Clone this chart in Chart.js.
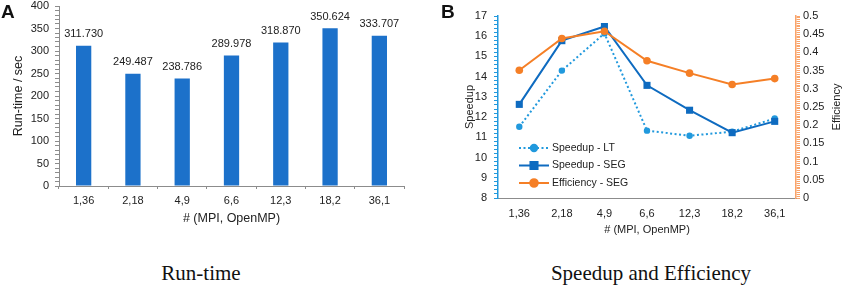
<!DOCTYPE html>
<html>
<head>
<meta charset="utf-8">
<script src="https://cdn.jsdelivr.net/npm/chart.js@4.4.1/dist/chart.umd.min.js"></script>
<style>
    body { margin: 0; background: #fff; width: 844px; height: 287px; overflow: hidden; position: relative; font-family: 'Liberation Sans', Arial, sans-serif; }
    canvas { position: absolute; top: 0; }
    #runtimeChart { left: 0; }
    #speedupChart { left: 420px; }
    .panel { position: absolute; top: 2px; font-weight: bold; font-size: 19px; line-height: 19px; color: #111; }
    .caption { position: absolute; top: 261px; width: 300px; white-space: nowrap; font-family: 'Liberation Serif', 'Times New Roman', serif; font-size: 21px; line-height: 24px; text-align: center; color: #111; }
</style>
</head>
<body>
<canvas id="runtimeChart" width="420" height="235"></canvas>
<canvas id="speedupChart" width="424" height="245"></canvas>
<div class="panel" style="left:1px">A</div>
<div class="panel" style="left:441px">B</div>
<div class="caption" style="left:51px">Run-time</div>
<div class="caption" style="left:501px">Speedup and Efficiency</div>

<script>
// categories: # (MPI, OpenMP)
const categories = ['1,36', '2,18', '4,9', '6,6', '12,3', '18,2', '36,1'];

// panel A
const runTime = [311.730, 249.487, 238.786, 289.978, 318.870, 350.624, 333.707];
const runTimeTicks = [0, 50, 100, 150, 200, 250, 300, 350, 400];

// panel B
const speedupLT = [11.52, 14.30, 16.14, 11.33, 11.08, 11.28, 11.93];
const speedupSEG = [12.63, 15.78, 16.48, 13.57, 12.34, 11.23, 11.79];
const efficiencySEG = [0.351, 0.438, 0.458, 0.377, 0.343, 0.312, 0.328];
const speedupTicks = [8, 9, 10, 11, 12, 13, 14, 15, 16, 17];
const efficiencyTicks = [0, 0.05, 0.1, 0.15, 0.2, 0.25, 0.3, 0.35, 0.4, 0.45, 0.5];

Chart.defaults.font.family = "'Liberation Sans', Arial, sans-serif";
Chart.defaults.font.size = 11;
Chart.defaults.color = '#222';

const isTick = (list, v) => list.some(t => Math.abs(t - v) < 1e-6);

// value labels above bars
const barValueLabels = {
    id: 'barValueLabels',
    afterDatasetsDraw(chart) {
        const ctx = chart.ctx;
        const meta = chart.getDatasetMeta(0);
        ctx.save();
        ctx.font = "11px 'Liberation Sans', Arial, sans-serif";
        ctx.fillStyle = '#222';
        ctx.textAlign = 'center';
        ctx.textBaseline = 'bottom';
        meta.data.forEach((bar, i) => {
            ctx.fillText(runTime[i].toFixed(3), bar.x, bar.y - 6);
        });
        ctx.restore();
    }
};

// legend drawn inside the plot, lower left
const insideLegend = {
    id: 'insideLegend',
    afterDraw(chart) {
        const ctx = chart.ctx;
        const area = chart.chartArea;
        const x0 = area.left + 21;
        let y = area.top + 132;
        chart.data.datasets.forEach(ds => {
            ctx.save();
            ctx.strokeStyle = ds.borderColor;
            ctx.lineWidth = ds.borderWidth;
            ctx.setLineDash(ds.borderDash || []);
            ctx.beginPath();
            ctx.moveTo(x0, y);
            ctx.lineTo(x0 + 30, y);
            ctx.stroke();
            ctx.setLineDash([]);
            ctx.fillStyle = ds.backgroundColor;
            Chart.helpers.drawPoint(ctx, { pointStyle: ds.pointStyle, radius: ds.pointRadius, borderWidth: 1 }, x0 + 15, y);
            ctx.fillStyle = '#222';
            ctx.font = "10.5px 'Liberation Sans', Arial, sans-serif";
            ctx.textAlign = 'left';
            ctx.textBaseline = 'middle';
            ctx.fillText(ds.label, x0 + 33, y);
            ctx.restore();
            y += 17.5;
        });
    }
};

// right axis title, reading bottom to top like the left one
const rightAxisTitle = {
    id: 'rightAxisTitle',
    afterDraw(chart) {
        const scale = chart.scales.y1;
        const ctx = chart.ctx;
        ctx.save();
        ctx.translate(scale.right - 7, (chart.chartArea.top + chart.chartArea.bottom) / 2);
        ctx.rotate(-Math.PI / 2);
        ctx.font = "11px 'Liberation Sans', Arial, sans-serif";
        ctx.fillStyle = '#222';
        ctx.textAlign = 'center';
        ctx.textBaseline = 'middle';
        ctx.fillText(scale.options.title.text, 0, 0);
        ctx.restore();
    }
};

// Panel A: run-time bars
new Chart(document.getElementById('runtimeChart'), {
    type: 'bar',
    data: {
        labels: categories,
        datasets: [{
            label: 'Run-time',
            data: runTime,
            backgroundColor: '#1C71CA',
            barPercentage: 0.31,
            categoryPercentage: 1
        }]
    },
    options: {
        responsive: false,
        animation: false,
        layout: { padding: { top: 6, right: 16, left: 0, bottom: 0 } },
        plugins: { legend: { display: false }, tooltip: { enabled: false } },
        scales: {
            x: {
                grid: { drawOnChartArea: false, tickLength: 3, color: '#8c8c8c' },
                border: { color: '#8c8c8c' },
                ticks: { padding: 5 },
                title: { display: true, text: '# (MPI, OpenMP)', font: { size: 12.5 }, padding: { top: 0, bottom: 9 } },
                afterFit(scale) { scale.height = 49; }
            },
            y: {
                min: runTimeTicks[0],
                max: runTimeTicks[runTimeTicks.length - 1],
                grid: { drawOnChartArea: false, tickLength: 4, color: '#8c8c8c' },
                border: { color: '#8c8c8c' },
                ticks: {
                    stepSize: 10,
                    autoSkip: false,
                    padding: 6,
                    callback: v => isTick(runTimeTicks, v) ? v : ''
                },
                title: { display: true, text: 'Run-time / sec', font: { size: 12.5 }, padding: { top: 11, bottom: 0 } },
                afterFit(scale) { scale.width = 59; scale.paddingTop = 0; }
            }
        }
    },
    plugins: [barValueLabels]
});

// Panel B: speedup and efficiency
new Chart(document.getElementById('speedupChart'), {
    type: 'line',
    data: {
        labels: categories,
        datasets: [
            {
                label: 'Speedup - LT',
                data: speedupLT,
                yAxisID: 'y',
                borderColor: '#2199DD',
                backgroundColor: '#2199DD',
                borderWidth: 2,
                borderDash: [2, 2.5],
                pointStyle: 'circle',
                pointRadius: 3.2,
                pointBorderWidth: 0,
                tension: 0,
                order: 3
            },
            {
                label: 'Speedup - SEG',
                data: speedupSEG,
                yAxisID: 'y',
                borderColor: '#0E6BC0',
                backgroundColor: '#0E6BC0',
                borderWidth: 2,
                pointStyle: 'rect',
                pointRadius: 5,
                pointBorderWidth: 0,
                tension: 0,
                order: 2
            },
            {
                label: 'Efficiency - SEG',
                data: efficiencySEG,
                yAxisID: 'y1',
                borderColor: '#F57F26',
                backgroundColor: '#F57F26',
                borderWidth: 2,
                pointStyle: 'circle',
                pointRadius: 3.8,
                pointBorderWidth: 0,
                tension: 0,
                order: 1
            }
        ]
    },
    options: {
        responsive: false,
        animation: false,
        layout: { padding: { top: 16, right: 0, left: 0, bottom: 0 } },
        plugins: { legend: { display: false }, tooltip: { enabled: false } },
        scales: {
            x: {
                offset: true,
                grid: { display: true, drawOnChartArea: false, drawTicks: false },
                border: { color: '#8c8c8c' },
                ticks: { padding: 9 },
                title: { display: true, text: '# (MPI, OpenMP)', font: { size: 11 }, padding: { top: 0, bottom: 8 } },
                afterFit(scale) { scale.height = 47; }
            },
            y: {
                position: 'left',
                min: speedupTicks[0],
                max: speedupTicks[speedupTicks.length - 1],
                grid: { drawOnChartArea: false, tickLength: 4, color: '#2199DD' },
                border: { color: '#2199DD', width: 1.5 },
                ticks: {
                    stepSize: 0.2,
                    autoSkip: false,
                    padding: 7,
                    callback: v => isTick(speedupTicks, v) ? Math.round(v) : ''
                },
                title: { display: true, text: 'Speedup', font: { size: 11 }, padding: { top: 43, bottom: 0 } },
                afterFit(scale) { scale.width = 78; scale.paddingTop = 0; }
            },
            y1: {
                position: 'right',
                min: efficiencyTicks[0],
                max: efficiencyTicks[efficiencyTicks.length - 1],
                grid: { drawOnChartArea: false, tickLength: 4, color: '#F9A46B' },
                border: { color: '#F9A46B', width: 1.5 },
                ticks: {
                    stepSize: 0.005,
                    autoSkip: false,
                    padding: 3,
                    callback: v => isTick(efficiencyTicks, v) ? String(parseFloat(v.toFixed(2))) : ''
                },
                title: { display: false, text: 'Efficiency' },
                afterFit(scale) { scale.width = 48; scale.paddingTop = 0; }
            }
        }
    },
    plugins: [insideLegend, rightAxisTitle]
});
</script>
</body>
</html>
